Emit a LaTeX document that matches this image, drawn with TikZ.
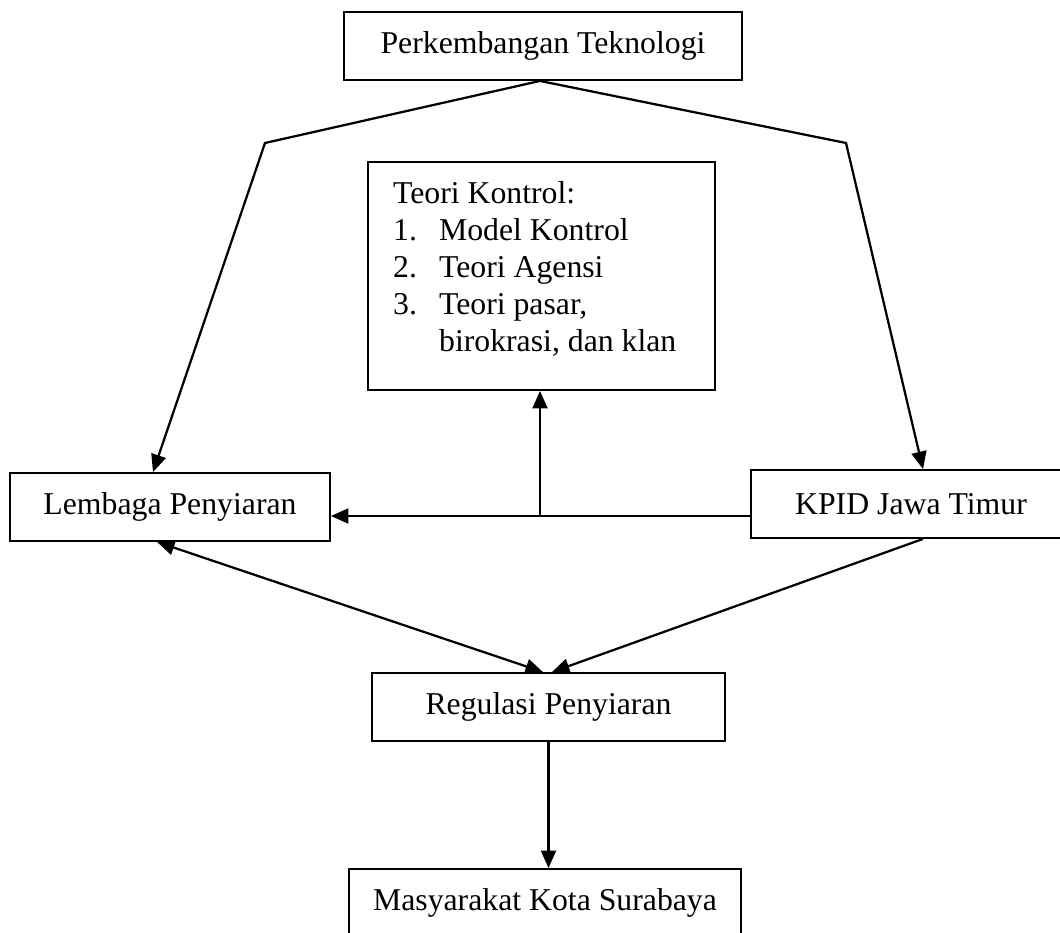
\documentclass[tikz,border=0pt]{standalone}
\usepackage{fontspec}
\setmainfont{Liberation Serif}
\usetikzlibrary{arrows.meta}
\newcommand{\teks}{\fontsize{12.7}{14.8}\selectfont}
\begin{document}
\begin{tikzpicture}[x=0.4pt,y=-0.4pt,font=\teks,line width=0.9pt,
		kotak/.style={draw,rectangle,line width=0.75pt,minimum height=27.2pt,inner sep=0pt},
		>={Triangle[length=7pt,width=6pt]}]
		\useasboundingbox (0,0) rectangle (1060,933);
		% kotak
		\node [kotak,minimum width=159.2pt] (tek) at (543,46) {Perkembangan Teknologi};
		\node [kotak,minimum width=138.8pt,minimum height=91.2pt] (teori) at (541.5,276) {};
		\node [anchor=north west,inner sep=0pt] (teorilist) at (392,176) {\begin{tabular}[t]{@{}p{18.4pt}@{}l@{}}
				\multicolumn{2}{@{}l@{}}{Teori Kontrol:}\\
				1. & Model Kontrol\\
				2. & Teori Agensi\\
				3. & Teori pasar,\\
				& birokrasi, dan klan
			\end{tabular}};
		\node [kotak,minimum width=128pt] (lembaga) at (170,507) {Lembaga Penyiaran};
		\node [kotak,minimum width=128pt] (kpid) at (911,504) {KPID Jawa Timur};
		\node [kotak,minimum width=141.2pt] (regulasi) at (548.5,707) {Regulasi Penyiaran};
		\node [kotak,minimum width=156.8pt] (masy) at (545,903) {Masyarakat Kota Surabaya};
		% garis
		\coordinate (belokkiri) at (265,143);
		\coordinate (belokkanan) at (846,143);
		\coordinate (tengah) at (540,516);
		\draw [->] ([xshift=-1.2pt]tek.south) -- (belokkiri) -- ([xshift=-6.8pt]lembaga.north);
		\draw [->] ([xshift=-1.2pt]tek.south) -- (belokkanan) -- ([xshift=4.8pt]kpid.north);
		\draw [->] (kpid.west |- tengah) -- (lembaga.east |- tengah);
		\draw [->] (tengah) -- (teori.south -| tengah);
		\draw [<->] ([xshift=-5.2pt]lembaga.south) -- ([xshift=-2.2pt]regulasi.north);
		\draw [->] ([xshift=4.8pt]kpid.south) -- ([xshift=1.4pt]regulasi.north);
		\draw [->] (regulasi.south) -- (regulasi.south |- masy.north);
	\end{tikzpicture}
\end{document}
